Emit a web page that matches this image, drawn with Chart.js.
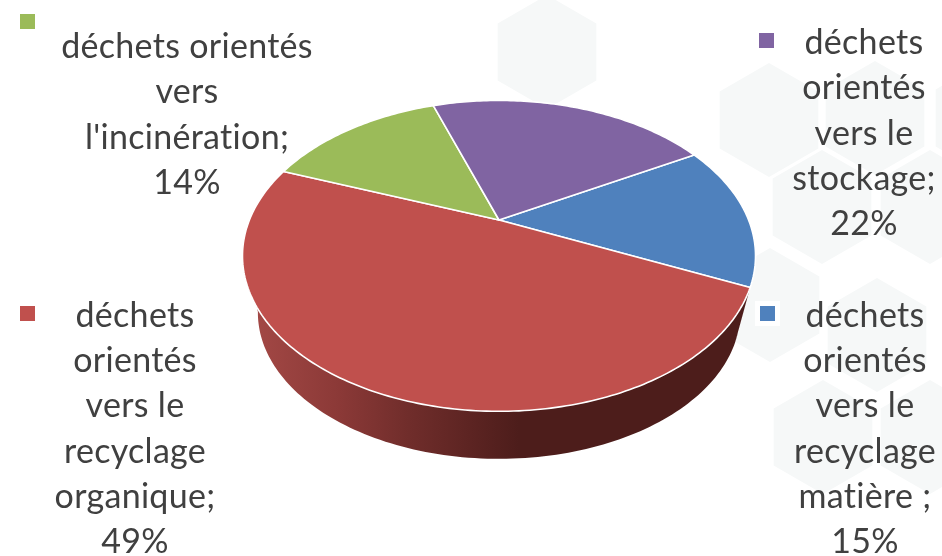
<!DOCTYPE html>
<html lang="fr">
<head>
<meta charset="utf-8">
<title>Déchets</title>
<script src="https://cdn.jsdelivr.net/npm/chart.js@4"></script>
<style>
    html, body { margin: 0; padding: 0; background: #fff; }
    #wrap { position: relative; width: 942px; height: 556px; overflow: hidden; }
</style>
</head>
<body>
<div id="wrap"><canvas id="pie"></canvas></div>
<script>
// Valeurs
const categories = [
    'déchets orientés vers le recyclage matière',
    'déchets orientés vers le recyclage organique',
    "déchets orientés vers l'incinération",
    'déchets orientés vers le stockage'
];
const values = [15, 49, 14, 22];
const colors = ['#4f81bd', '#c0504d', '#9bbb59', '#8064a2'];

// Découpage des étiquettes, ligne par ligne
const labelLines = [
    ['déchets', 'orientés', 'vers le', 'recyclage', 'matière ;'],
    ['déchets', 'orientés', 'vers le', 'recyclage', 'organique;'],
    ['déchets orientés', 'vers', "l'incinération;"],
    ['déchets', 'orientés', 'vers le', 'stockage;']
];

// Mise en page des étiquettes : centre du texte, première ligne de base, carré de légende
const labelBoxes = [
    { cx: 865, top: 327, step: 45.2, sq: [760, 306], halo: true },
    { cx: 135, top: 327, step: 45.2, sq: [20, 306] },
    { cx: 187, top: 58, step: 45.3, sq: [20, 14] },
    { cx: 864, top: 54, step: 45.3, sq: [759, 33] }
];

// Filigrane d'hexagones derrière le graphique
const hexCentres = [
    [547, 52], [769, 120], [875, 118], [985, 118], [822, 207], [930, 207],
    [770, 305], [877, 335], [823, 437], [930, 437]
];

// Projection en perspective du disque (ellipse dont le centre est décalé vers le haut)
const TILT = 0.2308;
const STRETCH_X = 250.5 / 220;
const STRETCH_Y = 147.7 / 220;
const WALL_DROP = 59;
const WALL_SCALE = 0.94;
const WALL_FROM = 20 * Math.PI / 180;
const WALL_TO = 167 * Math.PI / 180;

function project(el, angle) {
    const w = 1 - TILT * Math.sin(angle);
    return {
        x: el.x + el.outerRadius * STRETCH_X * Math.cos(angle) / w,
        y: el.y + el.outerRadius * STRETCH_Y * Math.sin(angle) / w
    };
}

class PerspectiveArc extends Chart.ArcElement {
    static id = 'perspectiveArc';

    drawWall(ctx) {
        const from = Math.max(this.startAngle, WALL_FROM);
        const to = Math.min(this.endAngle, WALL_TO);
        if (to <= from) return;

        const rim = [];
        for (let i = 0; i <= 120; i++) {
            rim.push(project(this, from + (to - from) * i / 120));
        }
        ctx.beginPath();
        rim.forEach(p => ctx.lineTo(p.x, p.y));
        rim.reverse().forEach(p => {
            ctx.lineTo(this.x + (p.x - this.x) * WALL_SCALE, this.y + WALL_DROP + (p.y - this.y) * WALL_SCALE);
        });
        ctx.closePath();

        const grad = ctx.createLinearGradient(this.x - 256, 0, this.x + 20, 0);
        grad.addColorStop(0, '#a64a47');
        grad.addColorStop(0.35, '#8b3937');
        grad.addColorStop(0.6, '#702d2b');
        grad.addColorStop(1, '#4d1d1b');
        ctx.fillStyle = grad;
        ctx.fill();
    }

    draw(ctx) {
        this.drawWall(ctx);

        ctx.beginPath();
        ctx.moveTo(this.x, this.y);
        const steps = Math.ceil((this.endAngle - this.startAngle) * 60);
        for (let i = 0; i <= steps; i++) {
            const p = project(this, this.startAngle + (this.endAngle - this.startAngle) * i / steps);
            ctx.lineTo(p.x, p.y);
        }
        ctx.closePath();
        ctx.fillStyle = this.options.backgroundColor;
        ctx.fill();
        ctx.lineJoin = 'round';
        ctx.lineWidth = this.options.borderWidth;
        ctx.strokeStyle = this.options.borderColor;
        ctx.stroke();
    }
}

class Pie3dController extends Chart.PieController {
    static id = 'pie3d';
    static defaults = { dataElementType: 'perspectiveArc' };
}

Chart.register(Chart.ArcElement, PerspectiveArc, Chart.PieController, Pie3dController);

const hexagonsPlugin = {
    id: 'hexagons',
    beforeDraw(chart) {
        const ctx = chart.ctx;
        ctx.save();
        ctx.fillStyle = '#f6f8f8';
        hexCentres.forEach(([cx, cy]) => {
            ctx.beginPath();
            for (let i = 0; i < 6; i++) {
                const a = Math.PI / 3 * i + Math.PI / 6;
                ctx.lineTo(cx + 57 * Math.cos(a), cy + 57 * Math.sin(a));
            }
            ctx.closePath();
            ctx.fill();
        });
        ctx.restore();
    }
};

const labelsPlugin = {
    id: 'sliceLabels',
    afterDraw(chart) {
        const ctx = chart.ctx;
        ctx.save();
        ctx.font = '34px Lato, "Open Sans", sans-serif';
        ctx.letterSpacing = '0.3px'; // coupe aussi la ligature "ti" de Lato
        ctx.textAlign = 'center';
        ctx.textBaseline = 'alphabetic';
        labelBoxes.forEach((box, i) => {
            ctx.fillStyle = '#404040';
            const lines = [...labelLines[i], values[i] + '%'];
            lines.forEach((line, n) => ctx.fillText(line, box.cx, box.top + n * box.step));

            const [sx, sy] = box.sq;
            if (box.halo) {
                ctx.fillStyle = '#ffffff';
                ctx.fillRect(sx - 5, sy - 5, 25, 25);
            }
            ctx.fillStyle = colors[i];
            ctx.fillRect(sx, sy, 15, 15);
        });
        ctx.restore();
    }
};

new Chart(document.getElementById('pie'), {
    type: 'pie3d',
    data: {
        labels: categories,
        datasets: [{
            data: values,
            backgroundColor: colors,
            borderColor: '#ffffff',
            borderWidth: 1.6
        }]
    },
    options: {
        responsive: true,
        maintainAspectRatio: false,
        animation: false,
        rotation: 60.5,
        layout: { padding: { left: 56, bottom: 116 } },
        plugins: {
            legend: { display: false },
            tooltip: { enabled: false }
        }
    },
    plugins: [hexagonsPlugin, labelsPlugin]
});
</script>
</body>
</html>
